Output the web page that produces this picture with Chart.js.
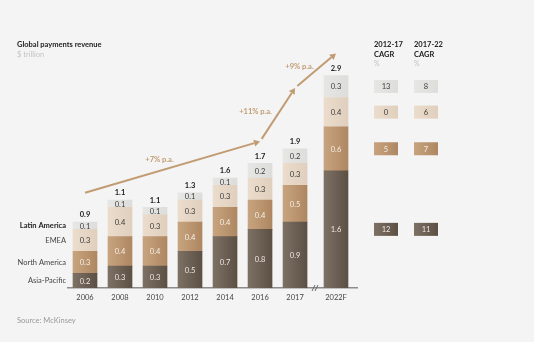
<!DOCTYPE html>
<html>
<head>
<meta charset="utf-8">
<script src="https://cdn.jsdelivr.net/npm/chart.js@4.4.1/dist/chart.umd.min.js"></script>
<style>
  html, body { margin: 0; padding: 0; background: #f4f4f4; }
  canvas { display: block; }
</style>
</head>
<body>
<canvas id="chart" width="534" height="342"></canvas>
<script>
// data
const years = ['2006', '2008', '2010', '2012', '2014', '2016', '2017', '2022F'];
const totals = [0.9, 1.1, 1.1, 1.3, 1.6, 1.7, 1.9, 2.9];
const asiaPacific = [0.2, 0.3, 0.3, 0.5, 0.7, 0.8, 0.9, 1.6];
const northAmerica = [0.3, 0.4, 0.4, 0.4, 0.4, 0.4, 0.5, 0.6];
const emea = [0.3, 0.4, 0.3, 0.3, 0.3, 0.3, 0.3, 0.4];
const latinAmerica = [0.1, 0.1, 0.1, 0.1, 0.1, 0.2, 0.2, 0.3];
const regionNames = ['Asia-Pacific', 'North America', 'EMEA', 'Latin America'];
const cagr2012to17 = [12, 5, 0, 13];   // same order as regionNames
const cagr2017to22 = [11, 7, 6, 8];
const growthLabels = ['+7% p.a.', '+11% p.a.', '+9% p.a.'];
const growthPath = [[0, 1.3], [5, 2.0], [6, 2.73], [7, 3.2]]; // [bar index, value]

// layout
const forecastGap = 0.17;   // extra room before the forecast bar (axis break)
const xPos = (i) => i + (i === years.length - 1 ? forecastGap : 0);
const FONT = 'Lato, "Open Sans", sans-serif';
const TAN = '#c19b72';

const colors = [
  ['#7d7064', '#5c4f44'],   // Asia-Pacific
  ['#c7a47f', '#ae8762'],   // North America
  ['#ebdccc', '#e0cfbd'],   // EMEA
  ['#e6e6e5', '#dddddc'],   // Latin America
];
const textColors = ['#efe9e2', '#f6efe6', '#3a3a3a', '#3a3a3a'];

function barFill(k) {
  return (ctx) => {
    const chart = ctx.chart;
    const sx = chart.scales.x;
    if (!sx || ctx.dataIndex === undefined) return colors[k][1];
    const cx = sx.getPixelForValue(xPos(ctx.dataIndex));
    if (!isFinite(cx)) return colors[k][1];
    const g = chart.ctx.createLinearGradient(cx - 12, 0, cx + 12, 0);
    g.addColorStop(0, colors[k][0]);
    g.addColorStop(1, colors[k][1]);
    return g;
  };
}

const series = [asiaPacific, northAmerica, emea, latinAmerica];
const datasets = series.map((vals, k) => ({
  label: regionNames[k],
  data: vals.map((v, i) => ({ x: xPos(i), y: v })),
  backgroundColor: barFill(k),
  borderWidth: 0,
  barThickness: 24,
}));

function segCenter(chart, k, i) {
  const el = chart.getDatasetMeta(k).data[i];
  return { x: el.x, y: (el.y + el.base) / 2, top: el.y };
}

const decorations = {
  id: 'decorations',
  afterDatasetsDraw(chart) {
    const c = chart.ctx;
    const sx = chart.scales.x, sy = chart.scales.y;
    const last = years.length - 1;
    c.save();
    c.textBaseline = 'middle';

    // segment values
    c.textAlign = 'center';
    c.font = '7.5px ' + FONT;
    series.forEach((vals, k) => {
      vals.forEach((v, i) => {
        const p = segCenter(chart, k, i);
        c.fillStyle = textColors[k];
        c.fillText(v.toFixed(1), p.x, p.y + 0.5);
      });
    });

    // totals
    c.font = 'bold 7.5px ' + FONT;
    c.fillStyle = '#222';
    totals.forEach((t, i) => {
      const p = segCenter(chart, 3, i);
      c.fillText(t.toFixed(1), p.x, p.top - 7);
    });

    // region names next to the first bar
    c.textAlign = 'right';
    regionNames.forEach((name, k) => {
      const p = segCenter(chart, k, 0);
      c.font = (k === 3 ? 'bold ' : '') + '7.5px ' + FONT;
      c.fillStyle = k === 3 ? '#222' : '#444';
      c.fillText(name, p.x - 19, p.y);
    });

    // growth arrows
    c.strokeStyle = TAN;
    c.fillStyle = TAN;
    c.lineWidth = 2;
    const pts = growthPath.map(([i, v]) => ({ x: sx.getPixelForValue(xPos(i)), y: sy.getPixelForValue(v) }));
    const labelOffsets = [[-13, -8], [-22, -3], [-16, -4]];
    for (let s = 0; s < pts.length - 1; s++) {
      const a = pts[s], b = pts[s + 1];
      const ang = Math.atan2(b.y - a.y, b.x - a.x);
      const start = s === 0 ? a : { x: a.x + 3 * Math.cos(ang), y: a.y + 3 * Math.sin(ang) };
      const tip = b;
      const back = { x: tip.x - 6 * Math.cos(ang), y: tip.y - 6 * Math.sin(ang) };
      c.beginPath();
      c.moveTo(start.x, start.y);
      c.lineTo(back.x, back.y);
      c.stroke();
      c.beginPath();
      c.moveTo(tip.x, tip.y);
      c.lineTo(back.x + 3.5 * Math.sin(ang), back.y - 3.5 * Math.cos(ang));
      c.lineTo(back.x - 3.5 * Math.sin(ang), back.y + 3.5 * Math.cos(ang));
      c.closePath();
      c.fill();
      c.font = 'bold 7.5px ' + FONT;
      c.textAlign = 'center';
      c.fillText(growthLabels[s], (a.x + b.x) / 2 + labelOffsets[s][0], (a.y + b.y) / 2 + labelOffsets[s][1]);
    }

    // axis break mark
    const bx = (sx.getPixelForValue(xPos(last - 1)) + sx.getPixelForValue(xPos(last))) / 2;
    const by = chart.chartArea.bottom;
    c.strokeStyle = '#666';
    c.lineWidth = 1;
    c.beginPath();
    c.moveTo(bx - 3.5, by + 3); c.lineTo(bx - 0.5, by - 3);
    c.moveTo(bx - 0.5, by + 3); c.lineTo(bx + 2.5, by - 3);
    c.stroke();

    // CAGR table aligned with the forecast bar
    const cols = [{ x: 386, head: '2012-17', vals: cagr2012to17 }, { x: 426, head: '2017-22', vals: cagr2017to22 }];
    cols.forEach(col => {
      c.textAlign = 'left';
      c.fillStyle = '#222';
      c.font = 'bold 7.5px ' + FONT;
      c.fillText(col.head, col.x - 12, 45);
      c.fillText('CAGR', col.x - 12, 54.5);
      c.font = '7px ' + FONT;
      c.fillStyle = '#c4c4c4';
      c.fillText('%', col.x - 12, 64);
      c.textAlign = 'center';
      col.vals.forEach((v, k) => {
        const p = segCenter(chart, k, last);
        const g = c.createLinearGradient(col.x - 12, 0, col.x + 12, 0);
        g.addColorStop(0, colors[k][0]);
        g.addColorStop(1, colors[k][1]);
        c.fillStyle = g;
        c.fillRect(col.x - 12, p.y - 6.5, 24, 13);
        c.fillStyle = textColors[k];
        c.font = '7.5px ' + FONT;
        c.fillText(String(v), col.x, p.y + 0.5);
      });
    });

    // titles and source
    c.textAlign = 'left';
    c.fillStyle = '#222';
    c.font = 'bold 7.5px ' + FONT;
    c.fillText('Global payments revenue', 17, 45);
    c.fillStyle = '#c4c4c4';
    c.font = '7.5px ' + FONT;
    c.fillText('$ trillion', 17, 55);
    c.fillStyle = '#999';
    c.fillText('Source: McKinsey', 17, 321);
    c.restore();
  }
};

new Chart(document.getElementById('chart'), {
  type: 'bar',
  data: { datasets },
  options: {
    responsive: false,
    animation: false,
    layout: { padding: { left: 67.5, right: 177, top: 31.5, bottom: 35 } },
    plugins: { legend: { display: false }, tooltip: { enabled: false } },
    scales: {
      x: {
        type: 'linear',
        stacked: true,
        offset: false,
        min: -0.5,
        max: xPos(years.length - 1) + 0.6,
        grid: { display: false, drawTicks: false },
        border: { display: true, color: '#8c8c8c', width: 1.5 },
        afterBuildTicks: (scale) => { scale.ticks = years.map((y, i) => ({ value: xPos(i) })); },
        ticks: {
          autoSkip: false,
          maxRotation: 0,
          padding: 5,
          color: '#444',
          font: { family: FONT, size: 7.5 },
          callback: (v, i) => years[i],
        },
      },
      y: {
        stacked: true,
        display: false,
        min: 0,
        max: 3.5,
      },
    },
  },
  plugins: [decorations],
});
</script>
</body>
</html>
